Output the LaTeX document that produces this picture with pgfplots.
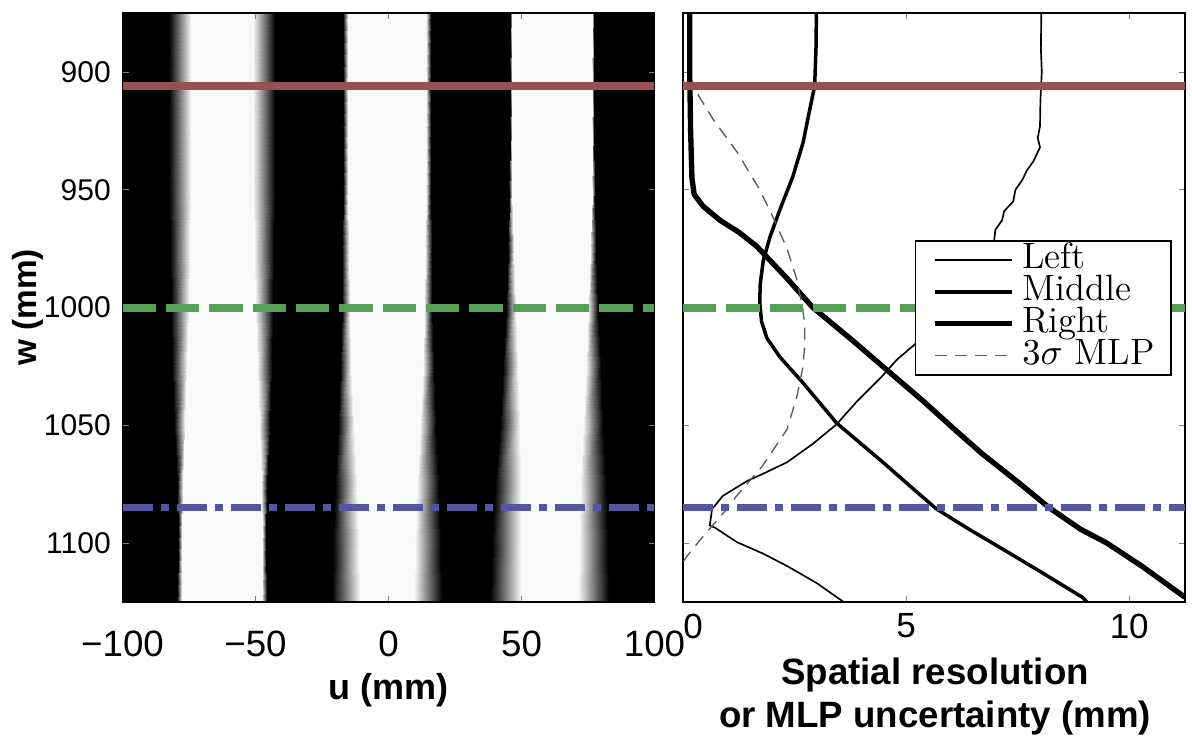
\documentclass[border=0pt]{standalone}
\usepackage{fontspec}
\usepackage{pgfplots}
\pgfplotsset{compat=1.18}
\newfontfamily\helv{Liberation Sans}
\definecolor{cred}{RGB}{155,80,80}
\definecolor{cgreen}{RGB}{85,160,85}
\definecolor{cblue}{RGB}{85,85,160}
\definecolor{cdash}{RGB}{90,90,90}
\begin{document}
\begin{tikzpicture}
\path[use as bounding box] (0,0) rectangle (357.6pt,222.6pt);
\begin{axis}[
  at={(36.75pt,42pt)}, anchor=south west,
  scale only axis, width=159.6pt, height=176.7pt,
  xmin=-100, xmax=100, ymin=875, ymax=1125, y dir=reverse,
  xtick={-100,-50,0,50,100}, xticklabels={−100,−50,0,50,100},
  ytick={900,950,1000,1050,1100}, yticklabels={900,950,1000,1050,1100},
  tick align=inside, major tick length=1.8pt,
  axis line style={line width=0.5pt},
  axis on top,
  colormap={bw}{gray(0cm)=(0); gray(1cm)=(0.975)},
  point meta min=0, point meta max=1,
  xticklabel style={font=\helv\fontsize{11}{13}\selectfont, yshift=-5pt},
  yticklabel style={font=\helv\fontsize{9}{10}\selectfont},
  xlabel={u (mm)}, ylabel={w (mm)},
  every axis x label/.style={at={(axis description cs:0.5,-0.149)}, anchor=center, font=\helv\bfseries\fontsize{10.8}{13}\selectfont},
  every axis y label/.style={at={(axis description cs:-0.178,0.5)}, rotate=90, anchor=center, font=\helv\bfseries\fontsize{10}{12}\selectfont},
]
\addplot[surf, shader=interp, mesh/cols=14, mesh/rows=11, point meta=\thisrow{c}] table[row sep=\\] {
x y c\\
-100 875 0\\ -82.6 875 0\\ -74.4 875 1\\ -50.8 875 1\\ -42.6 875 0\\ -17.0 875 0\\ -15.2 875 1\\ 14.1 875 1\\ 15.9 875 0\\ 45.55 875 0\\ 46.25 875 1\\ 76.65 875 1\\ 77.35 875 0\\ 100 875 0\\
-100 900 0\\ -82.6 900 0\\ -74.4 900 1\\ -50.8 900 1\\ -42.6 900 0\\ -17.0 900 0\\ -15.2 900 1\\ 14.1 900 1\\ 15.9 900 0\\ 45.55 900 0\\ 46.25 900 1\\ 76.65 900 1\\ 77.35 900 0\\ 100 900 0\\
-100 925 0\\ -82.6 925 0\\ -74.4 925 1\\ -50.8 925 1\\ -42.6 925 0\\ -17.0 925 0\\ -15.2 925 1\\ 14.1 925 1\\ 15.9 925 0\\ 45.55 925 0\\ 46.25 925 1\\ 76.65 925 1\\ 77.35 925 0\\ 100 925 0\\
-100 950 0\\ -82.6 950 0\\ -74.4 950 1\\ -50.8 950 1\\ -42.6 950 0\\ -17.0 950 0\\ -15.2 950 1\\ 14.1 950 1\\ 15.9 950 0\\ 45.45 950 0\\ 46.35 950 1\\ 76.55 950 1\\ 77.45 950 0\\ 100 950 0\\
-100 975 0\\ -82.25 975 0\\ -74.75 975 1\\ -50.45 975 1\\ -42.95 975 0\\ -17.3 975 0\\ -14.9 975 1\\ 13.8 975 1\\ 16.2 975 0\\ 44.8 975 0\\ 47.0 975 1\\ 75.9 975 1\\ 78.1 975 0\\ 100 975 0\\
-100 1000 0\\ -81.85 1000 0\\ -75.15 1000 1\\ -50.05 1000 1\\ -43.35 1000 0\\ -17.6 1000 0\\ -14.6 1000 1\\ 13.5 1000 1\\ 16.5 1000 0\\ 44.05 1000 0\\ 47.75 1000 1\\ 75.15 1000 1\\ 78.85 1000 0\\ 100 1000 0\\
-100 1025 0\\ -81.35 1025 0\\ -75.65 1025 1\\ -49.55 1025 1\\ -43.85 1025 0\\ -18.2 1025 0\\ -14.0 1025 1\\ 12.9 1025 1\\ 17.1 1025 0\\ 43.2 1025 0\\ 48.6 1025 1\\ 74.3 1025 1\\ 79.7 1025 0\\ 100 1025 0\\
-100 1050 0\\ -80.6 1050 0\\ -76.4 1050 1\\ -48.8 1050 1\\ -44.6 1050 0\\ -19.1 1050 0\\ -13.1 1050 1\\ 12.0 1050 1\\ 18.0 1050 0\\ 41.75 1050 0\\ 49.25 1050 1\\ 73.25 1050 1\\ 80.75 1050 0\\ 100 1050 0\\
-100 1075 0\\ -79.6 1075 0\\ -77.4 1075 1\\ -47.8 1075 1\\ -45.6 1075 0\\ -20.2 1075 0\\ -12.0 1075 1\\ 10.9 1075 1\\ 19.1 1075 0\\ 40.15 1075 0\\ 49.85 1075 1\\ 72.15 1075 1\\ 81.85 1075 0\\ 100 1075 0\\
-100 1100 0\\ -79.25 1100 0\\ -77.75 1100 1\\ -47.45 1100 1\\ -45.95 1100 0\\ -20.95 1100 0\\ -11.25 1100 1\\ 10.15 1100 1\\ 19.85 1100 0\\ 38.9 1100 0\\ 49.9 1100 1\\ 71.5 1100 1\\ 82.5 1100 0\\ 100 1100 0\\
-100 1125 0\\ -79.4 1125 0\\ -77.6 1125 1\\ -47.6 1125 1\\ -45.8 1125 0\\ -21.35 1125 0\\ -10.85 1125 1\\ 9.75 1125 1\\ 20.25 1125 0\\ 38.15 1125 0\\ 49.85 1125 1\\ 71.15 1125 1\\ 82.85 1125 0\\ 100 1125 0\\
};
\addplot[cred, line width=2.4pt] coordinates {(-100,906) (100,906)};
\addplot[cgreen, line width=2.4pt, dash pattern=on 10pt off 3pt] coordinates {(-100,1000) (100,1000)};
\addplot[cblue, line width=2.1pt, dash pattern=on 9pt off 2.4pt on 2.4pt off 2.4pt] coordinates {(-100,1085) (100,1085)};
\end{axis}

\begin{axis}[
  at={(204.9pt,42pt)}, anchor=south west,
  scale only axis, width=150.6pt, height=176.7pt,
  xmin=0, xmax=11.25, ymin=875, ymax=1125, y dir=reverse,
  xtick={0,5,10}, xticklabels={\hspace*{6pt}0,5,10},
  ytick={900,950,1000,1050,1100}, yticklabels={},
  tick align=inside, major tick length=1.8pt,
  axis line style={line width=0.5pt},
  xticklabel style={font=\helv\fontsize{10.5}{12}\selectfont},
  xlabel={Spatial resolution\\or MLP uncertainty (mm)},
  every axis x label/.style={at={(axis description cs:0.502,-0.161)}, anchor=center, align=center, font=\helv\bfseries\fontsize{11}{12.9}\selectfont},
  legend style={at={(axis description cs:0.462,0.6146)}, anchor=north west, draw=black, line width=0.45pt, fill=white, inner xsep=5pt, inner ysep=0.9pt, row sep=0pt, font=\fontsize{11}{12}\selectfont, nodes={inner sep=0pt, text height=7.3pt, text depth=2.3pt}, /tikz/every odd column/.append style={column sep=2.4pt}},
  legend cell align=left,
  legend image code/.code={\draw[#1] (0pt,0pt) -- (23pt,0pt);},
]
\addplot[black, line width=0.5pt] coordinates {
(8.03,875) (8.02,890) (8.04,900) (8.01,912) (8.0,923) (7.95,928) (8.0,932) (7.85,938) (7.7,942) (7.6,946) (7.45,950) (7.4,955) (7.2,959) (7.15,963) (7.0,967) (6.97,972) (6.9,980) (6.6,990) (6.1,1001) (5.6,1009) (5.19,1015.7) (4.8,1022) (4.47,1029) (3.89,1040) (3.44,1049.6) (2.9,1058) (2.33,1065.7) (1.8,1070.5) (1.43,1073.7) (0.89,1080) (0.65,1085.6) (0.6,1092.5) (0.72,1093.5) (1.21,1099.6) (1.8,1104.5) (2.33,1109.7) (3.0,1117) (3.6,1125)};
\addlegendentry{Left}
\addplot[black, line width=1.05pt] coordinates {
(2.99,875) (2.98,890) (2.95,906) (2.84,916) (2.69,930) (2.46,944.5) (2.17,958.5) (1.95,970) (1.8,980) (1.73,990) (1.72,998) (1.76,1006) (1.88,1013) (2.17,1021) (2.69,1032) (3.44,1049) (4.0,1058) (4.5,1066) (5.1,1076) (5.68,1085.5) (6.4,1094) (7.16,1102.5) (8.0,1112) (8.95,1123) (9.05,1125)};
\addlegendentry{Middle}
\addplot[black, line width=1.6pt] coordinates {
(0.15,875) (0.15,900) (0.17,925) (0.2,945) (0.25,952) (0.45,957) (0.83,963) (1.25,968) (1.65,974) (2.3,987) (2.91,1000) (3.8,1014) (4.63,1027.5) (5.4,1040) (6.1,1052) (6.7,1062) (7.5,1074) (8.21,1085) (8.9,1094) (9.5,1100) (10.3,1110) (11.25,1123)};
\addlegendentry{Right}
\addplot[cdash, line width=0.4pt, dash pattern=on 3.6pt off 2.4pt] coordinates {
(0.0,904) (0.27,907.6) (0.67,920) (1.21,934) (1.72,950) (2.1,965) (2.33,975) (2.55,988) (2.68,1000) (2.73,1008) (2.72,1018) (2.68,1026) (2.55,1038) (2.33,1051.7) (1.79,1067) (1.2,1080) (0.98,1085.6) (0.5,1096) (0.09,1105.5) (0.0,1108)};
\addlegendentry{$3\sigma$ MLP}
\addplot[cred, line width=2.4pt, forget plot] coordinates {(0,906) (11.25,906)};
\addplot[cgreen, line width=2.4pt, dash pattern=on 10pt off 3pt, forget plot] coordinates {(0,1000) (11.25,1000)};
\addplot[cblue, line width=2.1pt, dash pattern=on 9pt off 2.4pt on 2.4pt off 2.4pt, forget plot] coordinates {(0,1085) (11.25,1085)};
\end{axis}
\end{tikzpicture}
\end{document}
